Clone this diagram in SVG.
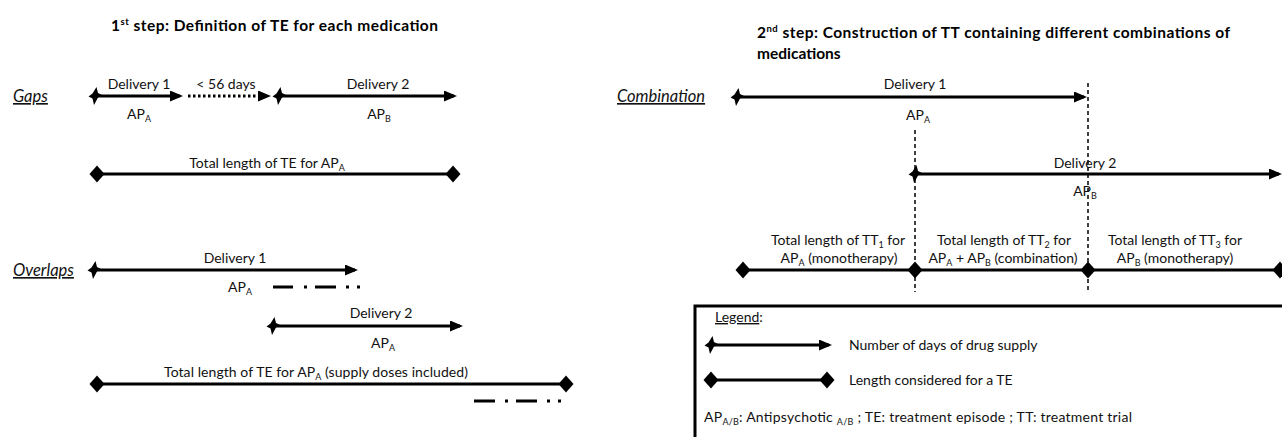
<svg xmlns="http://www.w3.org/2000/svg" width="1282" height="437" viewBox="0 0 1282 437">
<style>
text{font-family:Lato,"Open Sans","Liberation Sans",sans-serif;font-size:14px;fill:#111}
.t{font-weight:bold;font-size:15.5px;fill:#000}
.lab{font-style:italic;font-size:16.5px;text-decoration:underline}
.c{text-anchor:middle}
.ln{stroke:#000;stroke-width:3;fill:none}
.dash{stroke:#000;stroke-width:1.5;stroke-dasharray:4 3;fill:none}
.dot{stroke:#000;stroke-width:3;stroke-dasharray:2.5 2.5;fill:none}
.dd{stroke:#000;stroke-width:3;fill:none}
.sub{font-size:9px}
.sup{font-size:9.5px}
</style>
<defs>
<marker id="ah" markerUnits="userSpaceOnUse" markerWidth="14" markerHeight="12" refX="10" refY="5.5" orient="auto"><path d="M0,0 L13,5.5 L0,11 z" fill="#000"/></marker>
<path id="star" d="M1.5,-9 L3,-3 L7,-1 L3,1.5 L-1,9 L-2.5,2.5 L-6.5,0.5 L-2.5,-2.5 z" fill="#000"/>
<path id="dia" d="M0,-8.5 L7.5,0 L0,8.5 L-7.5,0 z" fill="#000"/>
</defs>

<g id="titles">
<text class="t" x="111" y="31" textLength="327">1<tspan class="sup" dy="-6">st</tspan><tspan dy="6"> step: Definition of TE for each medication</tspan></text>
<text class="t" x="757" y="38" textLength="473">2<tspan class="sup" dy="-6">nd</tspan><tspan dy="6"> step: Construction of TT containing different combinations of</tspan></text>
<text class="t" x="757" y="59">medications</text>
</g>

<g id="labels">
<text class="lab" x="13" y="102">Gaps</text>
<text class="lab" x="13" y="276">Overlaps</text>
<text class="lab" x="617" y="102">Combination</text>
</g>

<g id="connectors">
<line class="ln" x1="95" y1="96" x2="180" y2="96" marker-end="url(#ah)"/>
<line class="dot" x1="188" y1="96" x2="268" y2="96" marker-end="url(#ah)"/>
<line class="ln" x1="279" y1="96" x2="454" y2="96" marker-end="url(#ah)"/>
<line class="ln" x1="97" y1="174" x2="453" y2="174"/>
<line class="ln" x1="94" y1="270" x2="355" y2="270" marker-end="url(#ah)"/>
<line class="ln" x1="273" y1="326" x2="460" y2="326" marker-end="url(#ah)"/>
<line class="ln" x1="97" y1="384" x2="566" y2="384"/>
<path class="dd" d="M273,287 H293 M304,287 H307 M315,287 H336 M346,287 H349 M357,287 H360"/>
<path class="dd" d="M474,401 H495 M505,401 H508 M516,401 H537 M547,401 H550 M558,401 H561"/>
<line class="ln" x1="737" y1="97" x2="1084" y2="97" marker-end="url(#ah)"/>
<line class="ln" x1="915" y1="174" x2="1279" y2="174" marker-end="url(#ah)"/>
<line class="ln" x1="743" y1="270" x2="1282" y2="270"/>
<line class="dash" x1="1088" y1="83" x2="1088" y2="292"/>
<line class="dash" x1="915" y1="130" x2="915" y2="292"/>
</g>

<g id="gaps-delivery1">
<use href="#star" x="95" y="96"/>
<text class="c" x="139" y="89">Delivery 1</text>
<text class="c" x="139" y="119">AP<tspan class="sub" dy="3">A</tspan></text>
</g>
<g id="gaps-gap">
<text class="c" x="226" y="89">&lt; 56 days</text>
</g>
<g id="gaps-delivery2">
<use href="#star" x="279" y="96"/>
<text class="c" x="378" y="89">Delivery 2</text>
<text class="c" x="379" y="119">AP<tspan class="sub" dy="3">B</tspan></text>
</g>
<g id="gaps-te">
<use href="#dia" x="97" y="174"/>
<use href="#dia" x="453" y="174"/>
<text class="c" x="267" y="168">Total length of TE for AP<tspan class="sub" dy="3">A</tspan></text>
</g>

<g id="overlaps-delivery1">
<use href="#star" x="94" y="270"/>
<text class="c" x="235" y="263">Delivery 1</text>
<text class="c" x="240" y="292">AP<tspan class="sub" dy="3">A</tspan></text>
</g>
<g id="overlaps-delivery2">
<use href="#star" x="273" y="326"/>
<text class="c" x="381" y="318">Delivery 2</text>
<text class="c" x="383" y="348">AP<tspan class="sub" dy="3">A</tspan></text>
</g>
<g id="overlaps-te">
<use href="#dia" x="97" y="384"/>
<use href="#dia" x="566" y="384"/>
<text class="c" x="316" y="377" textLength="304">Total length of TE for AP<tspan class="sub" dy="3">A</tspan><tspan dy="-3"> (supply doses included)</tspan></text>
</g>

<g id="comb-delivery1">
<use href="#star" x="737" y="97"/>
<text class="c" x="915" y="89">Delivery 1</text>
<text class="c" x="918" y="120">AP<tspan class="sub" dy="3">A</tspan></text>
</g>
<g id="comb-delivery2">
<use href="#star" x="915" y="174"/>
<text class="c" x="1085" y="168">Delivery 2</text>
<text class="c" x="1085" y="196">AP<tspan class="sub" dy="3">B</tspan></text>
</g>
<g id="tt1">
<use href="#dia" x="743" y="270"/>
<text class="c" x="838" y="245">Total length of TT<tspan class="sub" dy="3">1</tspan><tspan dy="-3"> for</tspan></text>
<text class="c" x="839" y="263">AP<tspan class="sub" dy="3">A</tspan><tspan dy="-3"> (monotherapy)</tspan></text>
</g>
<g id="tt2">
<use href="#dia" x="915" y="270"/>
<text class="c" x="1004" y="245">Total length of TT<tspan class="sub" dy="3">2</tspan><tspan dy="-3"> for</tspan></text>
<text class="c" x="1003" y="263">AP<tspan class="sub" dy="3">A</tspan><tspan dy="-3"> + AP</tspan><tspan class="sub" dy="3">B</tspan><tspan dy="-3"> (combination)</tspan></text>
</g>
<g id="tt3">
<use href="#dia" x="1088" y="270"/>
<use href="#dia" x="1280" y="270"/>
<text class="c" x="1175" y="245">Total length of TT<tspan class="sub" dy="3">3</tspan><tspan dy="-3"> for</tspan></text>
<text class="c" x="1175" y="263">AP<tspan class="sub" dy="3">B</tspan><tspan dy="-3"> (monotherapy)</tspan></text>
</g>

<g id="legend">
<rect x="695" y="306" width="700" height="200" fill="#fff" stroke="#000" stroke-width="3"/>
<text x="715" y="322"><tspan text-decoration="underline">Legend</tspan>:</text>
<line class="ln" x1="711" y1="345" x2="829" y2="345" marker-end="url(#ah)"/>
<use href="#star" x="711" y="345"/>
<text x="849" y="350">Number of days of drug supply</text>
<line class="ln" x1="711" y1="380" x2="827" y2="380"/>
<use href="#dia" x="711" y="380"/>
<use href="#dia" x="827" y="380"/>
<text x="849" y="385">Length considered for a TE</text>
<text x="704" y="422" textLength="428">AP<tspan class="sub" dy="3">A/B</tspan><tspan dy="-3">: Antipsychotic </tspan><tspan class="sub" dy="3">A/B</tspan><tspan dy="-3"> ; TE: treatment episode ; TT: treatment trial</tspan></text>
</g>
</svg>
